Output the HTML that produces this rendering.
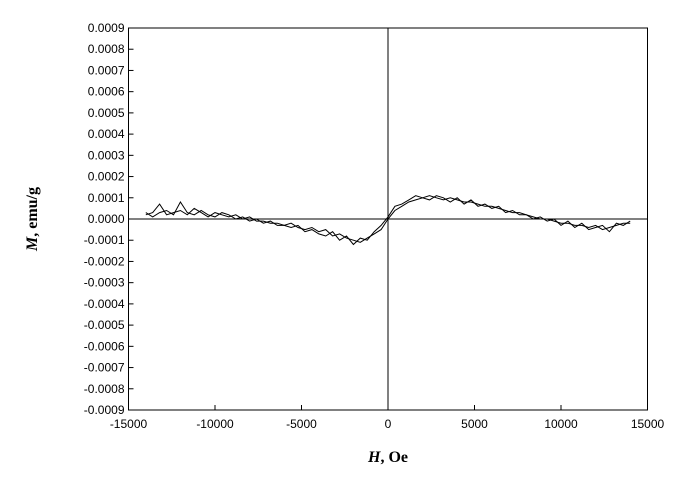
<!DOCTYPE html>
<html><head><meta charset="utf-8"><style>
body{margin:0;background:#fff;}
svg{display:block;font-family:"Liberation Sans",sans-serif;}
</style></head><body>
<svg id="chart" width="692" height="483" viewBox="0 0 692 483"></svg>
<script>
const xTicks=[-15000,-10000,-5000,0,5000,10000,15000];
const yTicks=[0.0009,0.0008,0.0007,0.0006,0.0005,0.0004,0.0003,0.0002,0.0001,0.0000,-0.0001,-0.0002,-0.0003,-0.0004,-0.0005,-0.0006,-0.0007,-0.0008,-0.0009];
const yTickLabels=["0.0009","0.0008","0.0007","0.0006","0.0005","0.0004","0.0003","0.0002","0.0001","0.0000","-0.0001","-0.0002","-0.0003","-0.0004","-0.0005","-0.0006","-0.0007","-0.0008","-0.0009"];
// H values, step 400 Oe from -14000 to 14000
const hValues=[-14000,-13600,-13200,-12800,-12400,-12000,-11600,-11200,-10800,-10400,-10000,-9600,-9200,-8800,-8400,-8000,-7600,-7200,-6800,-6400,-6000,-5600,-5200,-4800,-4400,-4000,-3600,-3200,-2800,-2400,-2000,-1600,-1200,-800,-400,0,400,800,1200,1600,2000,2400,2800,3200,3600,4000,4400,4800,5200,5600,6000,6400,6800,7200,7600,8000,8400,8800,9200,9600,10000,10400,10800,11200,11600,12000,12400,12800,13200,13600,14000];
// M (units 1e-5 emu/g), branch 1
const mBranch1=[2,3,7,2,3,4,2,5,3,1,3,2,1,2,0,1,-1,-1,-2,-2,-3,-2,-4,-5,-4,-6,-5,-8,-7,-9,-10,-11,-9,-7,-5,0,4,6,8,9,10,11,10,9,10,9,8,8,7,6,6,5,4,3,3,2,1,0,0,-1,-2,-2,-3,-3,-4,-3,-5,-4,-3,-2,-2];
// M (units 1e-5 emu/g), branch 2
const mBranch2=[3,1,3,4,2,8,3,2,4,2,1,3,2,0,1,-1,0,-2,-1,-3,-3,-4,-3,-6,-5,-7,-8,-6,-10,-8,-12,-9,-10,-6,-3,1,6,7,9,11,10,9,11,10,8,10,7,9,6,7,5,6,3,4,2,2,0,1,-1,0,-3,-1,-4,-2,-5,-4,-3,-6,-2,-3,-1];

const L=128.5,R=647.5,T=28,B=410;
const xs=h=>L+(h+15000)/30000*(R-L);
const ys=m=>T+(0.0009-m)/0.0018*(B-T);
const svg=document.getElementById('chart');
const NS='http://www.w3.org/2000/svg';
function mk(tag,attrs,parent){const e=document.createElementNS(NS,tag);for(const k in attrs)e.setAttribute(k,attrs[k]);(parent||svg).appendChild(e);return e;}

const frame=mk('rect',{x:L,y:T,width:R-L,height:B-T,fill:'none',stroke:'#000','stroke-width':1});


const z1=mk('line',{x1:L,x2:R,y1:ys(0),y2:ys(0),stroke:'#000'});


const z2=mk('line',{x1:xs(0),x2:xs(0),y1:T,y2:B,stroke:'#000'});



yTicks.forEach((v,i)=>{
  const y=ys(v);
  const t=mk('line',{x1:L,x2:L+5,y1:y,y2:y,stroke:'#000'});
  
  
  const tx=mk('text',{x:L-4,y:y+4,'text-anchor':'end','font-size':12});
  tx.textContent=yTickLabels[i];
  
  
});
xTicks.forEach(v=>{
  const x=xs(v);
  const t=mk('line',{x1:x,x2:x,y1:B,y2:B-5,stroke:'#000'});
  
  
  const tx=mk('text',{x:x,y:B+18,'text-anchor':'middle','font-size':12});
  tx.textContent=String(v);
  
  
});
[mBranch1,mBranch2].forEach((arr,j)=>{
  const pts=hValues.map((h,i)=>xs(h).toFixed(1)+','+ys(arr[i]*1e-5).toFixed(1)).join(' ');
  const p=mk('polyline',{points:pts,fill:'none',stroke:'#000','stroke-width':1});
  
  
});
const xt=mk('text',{x:388,y:462,'text-anchor':'middle','font-size':16,'font-weight':'bold','font-family':'Liberation Serif, serif'});
xt.innerHTML='<tspan font-style="italic">H</tspan>, Oe';


const yt=mk('text',{x:0,y:0,'text-anchor':'middle','font-size':16,'font-weight':'bold','font-family':'Liberation Serif, serif',transform:'translate(37,219) rotate(-90)'});
yt.innerHTML='<tspan font-style="italic">M</tspan>, emu/g';


</script>
</body></html>
